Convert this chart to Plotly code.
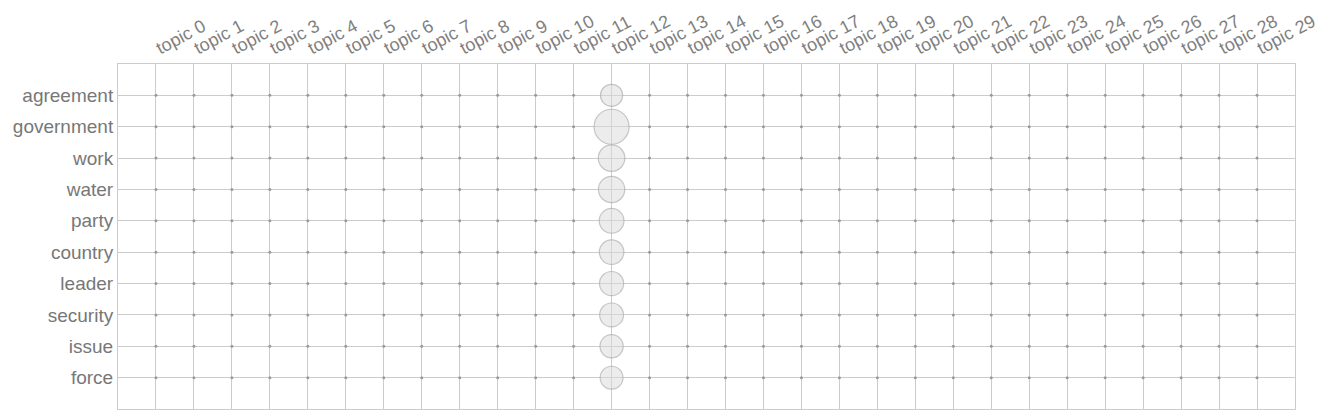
import plotly.graph_objects as go

topics = [f"topic {i}" for i in range(30)]
words = ["agreement", "government", "work", "water", "party", "country",
         "leader", "security", "issue", "force"]
# weight of each word in topic 12 (all other topics are ~0)
topic12_weights = [0.032, 0.080, 0.046, 0.045, 0.040, 0.039, 0.038, 0.037, 0.035, 0.034]
active_topic = 12

xs, ys, vals = [], [], []
for wi, w in enumerate(words):
    for ti, t in enumerate(topics):
        xs.append(ti)
        ys.append(wi)
        vals.append(topic12_weights[wi] if ti == active_topic else 0.0)

maxv = max(vals)
sizeref = 2 * maxv / (35 ** 2)

pos = [i for i, v in enumerate(vals) if v > 0]
zero = [i for i, v in enumerate(vals) if v <= 0]

fig = go.Figure()
# zero-weight cells: tiny dots
fig.add_trace(go.Scatter(
    x=[xs[i] for i in zero], y=[ys[i] for i in zero], mode="markers",
    marker=dict(size=3, color="#9a9a9a", line=dict(width=0)),
    hovertext=[f"{words[ys[i]]} / {topics[xs[i]]}: 0" for i in zero],
    hoverinfo="text", showlegend=False,
))
# weighted cells: area-scaled circles
fig.add_trace(go.Scatter(
    x=[xs[i] for i in pos], y=[ys[i] for i in pos], mode="markers",
    marker=dict(size=[vals[i] for i in pos], sizemode="area", sizeref=sizeref,
                color="rgba(218,218,218,0.7)", line=dict(color="#adadad", width=1.2)),
    hovertext=[f"{words[ys[i]]} / {topics[xs[i]]}: {vals[i]:.3f}" for i in pos],
    hoverinfo="text", showlegend=False,
))

fig.update_layout(
    width=1335, height=419,
    margin=dict(l=110, r=48, t=56, b=18),
    plot_bgcolor="white", paper_bgcolor="white",
    font=dict(family="Liberation Sans, Arial, sans-serif", size=19, color="#777777"),
)
fig.update_xaxes(
    side="top", range=[-1, 30], tickmode="array",
    tickvals=list(range(30)), ticktext=topics, tickangle=-28,
    showgrid=True, gridcolor="#cccccc", gridwidth=1, zeroline=False,
    showline=True, linecolor="#cccccc", mirror=True, ticks="",
    tickfont=dict(size=18, color="#808080"), automargin=False,
)
fig.update_yaxes(
    range=[len(words), -1], tickmode="array",
    tickvals=list(range(len(words))), ticktext=words,
    showgrid=True, gridcolor="#cccccc", gridwidth=1, zeroline=False,
    showline=True, linecolor="#cccccc", mirror=True, ticks="",
    tickfont=dict(size=19, color="#777777"), automargin=False,
)

fig.write_html("out.html")
